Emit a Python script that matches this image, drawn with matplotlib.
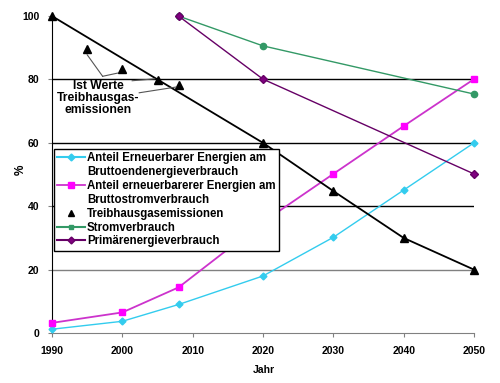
import matplotlib.pyplot as plt
from matplotlib.lines import Line2D

plt.rcParams['font.family'] = ['Liberation Sans', 'DejaVu Sans']
plt.rcParams['font.weight'] = 'bold'

# data
years_ee = [1990, 2000, 2008, 2020, 2030, 2040, 2050]
ee_endenergie = [1.2, 3.7, 9.0, 18.0, 30.2, 45.1, 60.0]
ee_strom = [3.2, 6.5, 14.4, 35.0, 50.2, 65.3, 80.1]

thg_years = [1990, 2020, 2030, 2040, 2050]
thg_ziel = [100, 60, 44.8, 30, 20]
ist_years = [1995, 2000, 2005, 2008]
ist_werte = [89.6, 83.3, 79.8, 78.2]

strom_years = [2008, 2020, 2050]
strom = [100, 90.6, 75.4]
primaer_years = [2008, 2020, 2050]
primaer = [100, 80.1, 50.2]

xticks = [1990, 2000, 2010, 2020, 2030, 2040, 2050]
yticks = [0, 20, 40, 60, 80, 100]

c_cyan = '#33CCEE'
c_mag = '#FF00FF'
c_magl = '#CC33CC'
c_green = '#339966'
c_purple = '#660066'

fig = plt.figure(figsize=(5.0, 3.83), dpi=100)
ax = plt.axes([0.104, 0.1305, 0.844, 0.8275])

# grid lines
for y in yticks[1:5]:
    ax.axhline(y, color='#808080' if y == 20 else 'black', lw=1.0, zorder=1)

ax.plot(years_ee, ee_endenergie, color=c_cyan, lw=1.0, marker='D', ms=3.5,
        mfc=c_cyan, mec=c_cyan, zorder=3, clip_on=False)
ax.plot(years_ee, ee_strom, color=c_magl, lw=1.3, marker='s', ms=5,
        mfc=c_mag, mec=c_mag, zorder=3, clip_on=False)
ax.plot(thg_years, thg_ziel, color='black', lw=1.3, marker='^', ms=5.5,
        zorder=3, clip_on=False)
ax.plot(ist_years, ist_werte, linestyle='none', color='black', marker='^', ms=5.5,
        zorder=3, clip_on=False)
ax.plot(strom_years, strom, color=c_green, lw=1.0, marker='o', ms=4.5,
        zorder=3, clip_on=False)
ax.plot(primaer_years, primaer, color=c_purple, lw=1.0, marker='D', ms=3.8,
        mfc='#800080', mec=c_purple, zorder=3, clip_on=False)

# annotation for the measured values
ax.text(1996.6, 74.0, 'Ist Werte\nTreibhausgas-\nemissionen', ha='center', va='center',
        fontsize=8.7, fontweight='bold', linespacing=1.0, zorder=4)
for tx, ty, px, py in [(1997.2, 81.0, 1995.0, 87.8), (1997.2, 81.0, 1999.3, 82.0),
                       (2001.4, 79.6, 2004.6, 80.2), (2002.4, 75.8, 2007.6, 77.6)]:
    ax.plot([tx, px], [ty, py], color='#555555', lw=0.8, zorder=4)

ax.set_xlim(1990, 2050)
ax.set_ylim(0, 100)
ax.set_xticks(xticks)
ax.set_yticks(yticks)
ax.tick_params(labelsize=7.5, length=3, color='#808080')
ax.tick_params(axis='x', pad=6)
ax.tick_params(axis='y', pad=6)
for lab in ax.get_xticklabels() + ax.get_yticklabels():
    lab.set_fontweight('bold')
ax.spines['top'].set_visible(False)
ax.spines['right'].set_visible(False)
ax.spines['bottom'].set_color('#808080')
ax.spines['left'].set_color('black')
ax.set_xlabel('Jahr', fontsize=7.5, fontweight='bold')
ax.set_ylabel('%', fontsize=8.5, fontweight='bold')
ax.xaxis.set_label_coords(0.502, -0.10)
ax.yaxis.set_label_coords(-0.06, 0.515)

empty = Line2D([], [], linestyle='none')
handles = [
    Line2D([], [], color=c_cyan, marker='D', ms=3.5),
    empty,
    Line2D([], [], color=c_magl, lw=1.3, marker='s', ms=5, mfc=c_mag, mec=c_mag),
    empty,
    Line2D([], [], linestyle='none', color='black', marker='^', ms=5),
    Line2D([], [], color=c_green, marker='s', ms=3.5),
    Line2D([], [], color=c_purple, marker='D', ms=3.5, mfc='#800080'),
]
labels = [
    'Anteil Erneuerbarer Energien am',
    'Bruttoendenergieverbrauch',
    'Anteil erneuerbarerer Energien am',
    'Bruttostromverbrauch',
    'Treibhausgasemissionen',
    'Stromverbrauch',
    'Primärenergieverbrauch',
]
leg = ax.legend(handles, labels, loc='upper left', bbox_to_anchor=(0.004, 0.581),
                prop={'size': 8.3, 'weight': 'bold'}, frameon=True, fancybox=False,
                edgecolor='black', framealpha=1, borderpad=0.3, labelspacing=0.16,
                handlelength=2.4, handletextpad=0.2, borderaxespad=0)
leg.get_frame().set_linewidth(1.0)
leg.set_zorder(5)

plt.savefig('out.png', dpi=100)
